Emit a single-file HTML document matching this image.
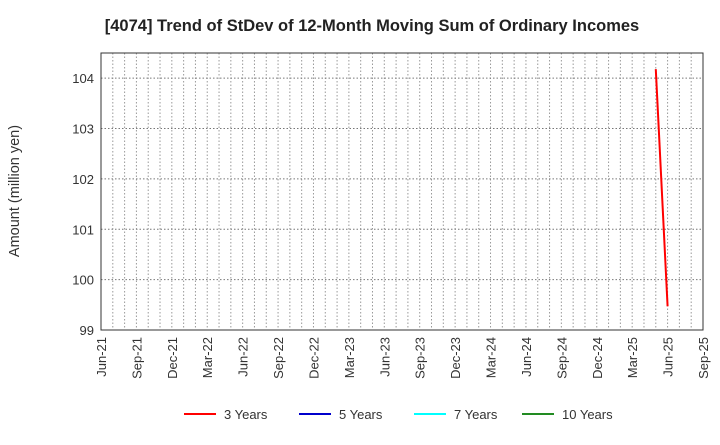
<!DOCTYPE html>
<html><head><meta charset="utf-8"><style>
body{margin:0;background:#fff;font-family:"Liberation Sans",sans-serif}
</style></head><body>
<svg id="c" width="720" height="440" xmlns="http://www.w3.org/2000/svg">
<text x="372" y="31" text-anchor="middle" font-size="16.5" font-weight="bold" fill="#222">[4074]  Trend of StDev of 12-Month Moving Sum of Ordinary Incomes</text>
<text transform="translate(19,191) rotate(-90)" text-anchor="middle" font-size="14.5" fill="#333">Amount (million yen)</text>
<g id="grid"></g><g id="ticks"></g><g id="series"></g>
<rect x="101" y="53" width="602" height="277" fill="none" stroke="#333" stroke-width="1"/>
<g id="legend"></g>
</svg>
<script>
const months=["Jun-21","Sep-21","Dec-21","Mar-22","Jun-22","Sep-22","Dec-22","Mar-23","Jun-23","Sep-23","Dec-23","Mar-24","Jun-24","Sep-24","Dec-24","Mar-25","Jun-25","Sep-25"];
const yTicks=[99,100,101,102,103,104];
const s3idx=[47,48];
const s3vals=[104.18,99.47];
const seriesNames=["3 Years","5 Years","7 Years","10 Years"];
const seriesColors=["#ff0000","#0000cc","#00ffff","#228b22"];
const NS="http://www.w3.org/2000/svg";
const X0=101,X1=703,Y0=330,Y1=53,totalMonths=51,yMin=99,yMax=104.5;
const xs=m=>X0+(X1-X0)*m/totalMonths;
const ys=v=>Y0-(Y0-Y1)*(v-yMin)/(yMax-yMin);
function mk(t,a,p){const e=document.createElementNS(NS,t);for(const k in a)e.setAttribute(k,a[k]);p.appendChild(e);return e;}
const grid=document.getElementById('grid'),ticks=document.getElementById('ticks');
for(let m=1;m<totalMonths;m++){const l=mk('line',{x1:xs(m),x2:xs(m),y1:Y1,y2:Y0,stroke:'#999','stroke-dasharray':'1.5,2','stroke-width':1},grid);

}
yTicks.forEach(v=>{if(v>yMin){const l=mk('line',{x1:X0,x2:X1,y1:ys(v),y2:ys(v),stroke:'#777','stroke-dasharray':'1.5,2','stroke-width':1},grid);

}
const t=mk('text',{x:94,y:ys(v)+5,'text-anchor':'end','font-size':13,fill:'#333'},ticks);t.textContent=v;

});
months.forEach((m,i)=>{const x=xs(i*3);const t=mk('text',{transform:`translate(${x+5},337) rotate(-90)`,'text-anchor':'end','font-size':13,fill:'#333'},ticks);t.textContent=m;

});
const pts=s3idx.map((m,i)=>xs(m)+','+ys(s3vals[i])).join(' ');
const pl=mk('polyline',{points:pts,fill:'none',stroke:'#ff0000','stroke-width':2},document.getElementById('series'));


const lg=document.getElementById('legend');const lx=[184,299,414,522];
seriesNames.forEach((n,i)=>{const g=mk('g',{},lg);


mk('line',{x1:lx[i],x2:lx[i]+32,y1:414,y2:414,stroke:seriesColors[i],'stroke-width':2},g);
const t=mk('text',{x:lx[i]+40,y:419,'font-size':13,fill:'#333'},g);t.textContent=n;});
</script>
</body></html>
